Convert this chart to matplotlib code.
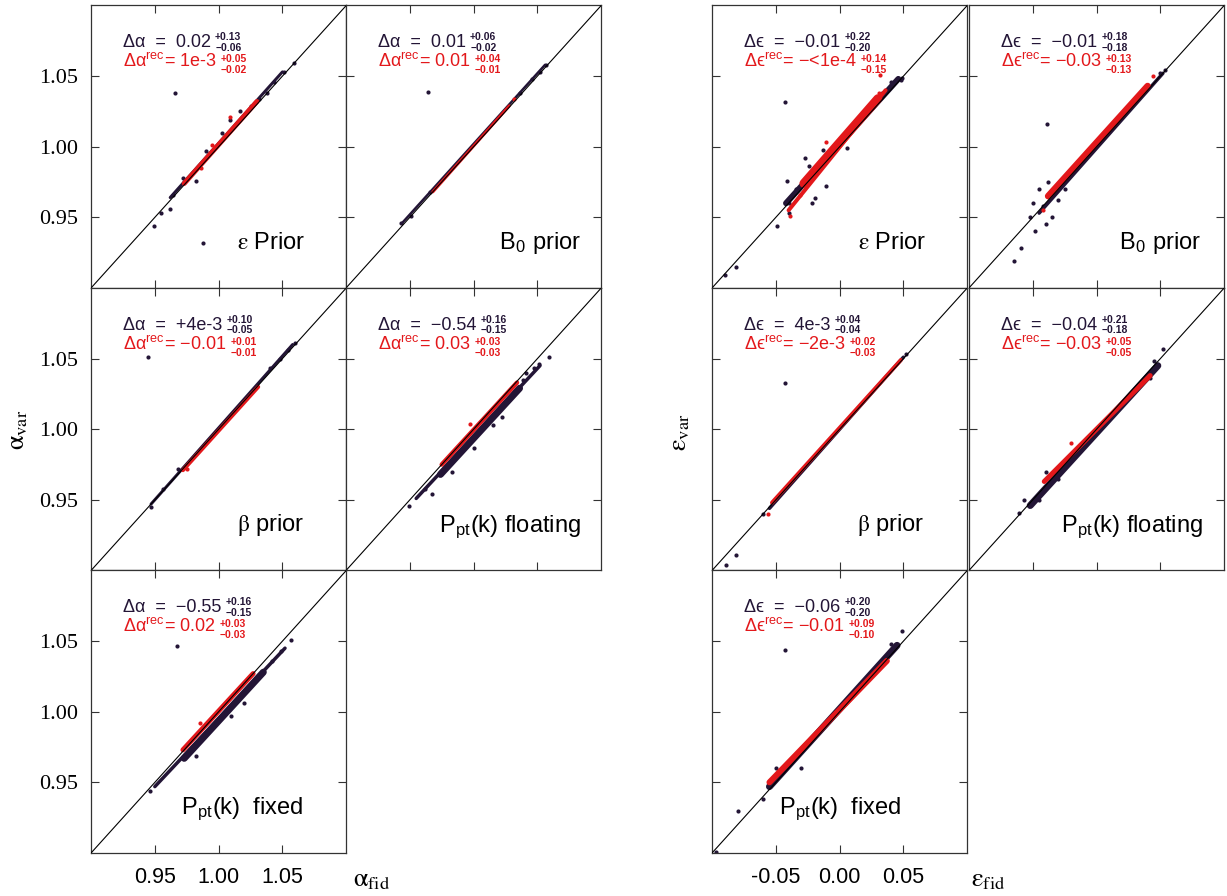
import matplotlib
matplotlib.use('Agg')
import matplotlib.pyplot as plt

# ---------------- data ----------------
alpha_ticks = [0.95, 1.00, 1.05]
alpha_ticklabels = ['0.95', '1.00', '1.05']
eps_ticks = [-0.05, 0.00, 0.05]
eps_ticklabels = ['-0.05', '0.00', '0.05']

panel_labels = ['$\\mathrm{\\varepsilon}$ Prior', 'B$_{\\mathregular{0}}$ prior', '$\\mathrm{\\beta}$ prior',
                'P$_{\\mathregular{pt}}$(k) floating', 'P$_{\\mathregular{pt}}$(k)  fixed']

alpha_dark_val = ['0.02', '0.01', '+4e-3', '\u22120.54', '\u22120.55']
alpha_dark_up = ['+0.13', '+0.06', '+0.10', '+0.16', '+0.16']
alpha_dark_lo = ['\u22120.06', '\u22120.02', '\u22120.05', '\u22120.15', '\u22120.15']
alpha_red_val = ['1e-3', '0.01', '\u22120.01', '0.03', '0.02']
alpha_red_up = ['+0.05', '+0.04', '+0.01', '+0.03', '+0.03']
alpha_red_lo = ['\u22120.02', '\u22120.01', '\u22120.01', '\u22120.03', '\u22120.03']

eps_dark_val = ['\u22120.01', '\u22120.01', '4e-3', '\u22120.04', '\u22120.06']
eps_dark_up = ['+0.22', '+0.18', '+0.04', '+0.21', '+0.20']
eps_dark_lo = ['\u22120.20', '\u22120.18', '\u22120.04', '\u22120.18', '\u22120.20']
eps_red_val = ['\u2212<1e-4', '\u22120.03', '\u22122e-3', '\u22120.03', '\u22120.01']
eps_red_up = ['+0.14', '+0.13', '+0.02', '+0.05', '+0.09']
eps_red_lo = ['\u22120.15', '\u22120.13', '\u22120.03', '\u22120.05', '\u22120.10']

# --- alpha, epsilon prior ---
A1_dark_band_fid = [0.962, 1.050]
A1_dark_band_var = [0.964, 1.053]
A1_dark_fid = [0.966, 0.988, 0.949, 0.962, 0.964, 0.972, 0.982, 1.003, 1.009, 1.017, 1.025, 1.032, 1.038, 1.043, 1.051, 1.059, 0.955, 0.990]
A1_dark_var = [1.038, 0.932, 0.944, 0.956, 0.966, 0.978, 0.976, 1.010, 1.019, 1.025, 1.029, 1.034, 1.038, 1.046, 1.053, 1.059, 0.953, 0.997]
A1_red_band_fid = [0.973, 1.030]
A1_red_band_var = [0.974, 1.032]
A1_red_fid = [0.995, 1.009, 0.986]
A1_red_var = [1.001, 1.021, 0.985]

# --- alpha, B0 prior ---
A2_dark_band_fid = [0.944, 1.056]
A2_dark_band_var = [0.946, 1.058]
A2_dark_fid = [0.964, 0.943, 0.951, 0.966, 1.036, 1.046, 1.052, 1.057]
A2_dark_var = [1.039, 0.946, 0.951, 0.968, 1.038, 1.048, 1.053, 1.058]
A2_red_band_fid = [0.968, 1.028]
A2_red_band_var = [0.968, 1.029]
A2_red_fid = [1.032]
A2_red_var = [1.034]

# --- alpha, beta prior ---
A3_dark_band_fid = [0.947, 1.058]
A3_dark_band_var = [0.947, 1.060]
A3_dark_fid = [0.945, 0.947, 0.956, 0.968, 1.040, 1.048, 1.054, 1.060]
A3_dark_var = [1.051, 0.945, 0.958, 0.972, 1.043, 1.050, 1.056, 1.061]
A3_red_band_fid = [0.972, 1.031]
A3_red_band_var = [0.971, 1.030]
A3_red_fid = [0.975]
A3_red_var = [0.972]

# --- alpha, P_pt floating ---
A4_dark_band_fid = [0.974, 1.036]
A4_dark_band_var = [0.968, 1.029]
A4_dark_tail_fid = [0.955, 1.052]
A4_dark_tail_var = [0.951, 1.045]
A4_dark_fid = [0.949, 0.962, 0.967, 1.059, 1.051, 1.047, 1.041, 1.039, 0.983, 1.000, 1.015, 1.022]
A4_dark_var = [0.946, 0.958, 0.954, 1.051, 1.046, 1.043, 1.040, 1.035, 0.970, 0.987, 1.003, 1.009]
A4_red_band_fid = [0.975, 1.034]
A4_red_band_var = [0.975, 1.033]
A4_red_fid = [0.997]
A4_red_var = [1.004]

# --- alpha, P_pt fixed ---
A5_dark_band_fid = [0.973, 1.035]
A5_dark_band_var = [0.967, 1.028]
A5_dark_tail_fid = [0.950, 1.052]
A5_dark_tail_var = [0.947, 1.045]
A5_dark_fid = [0.9675, 1.057, 1.049, 1.042, 0.946, 0.982, 1.010, 1.020]
A5_dark_var = [1.0465, 1.051, 1.043, 1.036, 0.944, 0.969, 0.997, 1.006]
A5_red_band_fid = [0.972, 1.027]
A5_red_band_var = [0.973, 1.027]
A5_red_fid = [0.985]
A5_red_var = [0.992]

# --- epsilon, epsilon prior ---
E1_dark_band_fid = [-0.042, 0.046]
E1_dark_band_var = [-0.040, 0.048]
E1_dark_fid = [-0.043, -0.081, -0.090, -0.049, -0.040, -0.040, -0.0415, -0.034, -0.027, -0.022, -0.019, -0.011, -0.024, -0.013, 0.006, 0.002, 0.040, 0.049, 0.048, 0.033]
E1_dark_var = [0.032, -0.085, -0.091, -0.056, -0.047, -0.040, -0.024, -0.030, -0.008, -0.040, -0.036, -0.028, -0.014, -0.002, -0.001, 0.005, 0.046, 0.049, 0.047, 0.038]
E1_red_band_fid = [-0.028, 0.030]
E1_red_band_var = [-0.026, 0.034]
E1_red_tail_fid = [-0.040, 0.036]
E1_red_tail_var = [-0.045, 0.040]
E1_red_fid = [0.032, -0.039, -0.031, -0.011, 0.031]
E1_red_var = [0.051, -0.049, -0.034, 0.003, 0.038]

# --- epsilon, B0 prior ---
E2_dark_band_fid = [-0.045, 0.052]
E2_dark_band_var = [-0.047, 0.052]
E2_dark_fid = [-0.039, -0.059, -0.065, -0.050, -0.045, -0.040, -0.035, -0.030, -0.048, 0.054, 0.050, -0.052, -0.042, -0.025, -0.038]
E2_dark_var = [0.016, -0.072, -0.081, -0.040, -0.030, -0.055, -0.050, -0.038, -0.060, 0.054, 0.052, -0.050, -0.042, -0.030, -0.025]
E2_red_band_fid = [-0.038, 0.040]
E2_red_band_var = [-0.035, 0.043]
E2_red_fid = [0.044, -0.042]
E2_red_var = [0.050, -0.045]

# --- epsilon, beta prior ---
E3_dark_band_fid = [-0.055, 0.050]
E3_dark_band_var = [-0.056, 0.051]
E3_dark_fid = [-0.043, -0.089, -0.081, -0.060, 0.052]
E3_dark_var = [0.033, -0.096, -0.089, -0.060, 0.053]
E3_red_band_fid = [-0.053, 0.048]
E3_red_band_var = [-0.052, 0.049]
E3_red_fid = [-0.056]
E3_red_var = [-0.060]

# --- epsilon, P_pt floating ---
E4_dark_band_fid = [-0.052, 0.048]
E4_dark_band_var = [-0.054, 0.045]
E4_dark_fid = [0.052, -0.061, -0.057, -0.045, -0.040, 0.045, 0.042, -0.030]
E4_dark_var = [0.057, -0.059, -0.050, -0.050, -0.030, 0.048, 0.036, -0.035]
E4_red_band_fid = [-0.041, 0.042]
E4_red_band_var = [-0.037, 0.038]
E4_red_fid = [-0.020]
E4_red_var = [-0.010]

# --- epsilon, P_pt fixed ---
E5_dark_band_fid = [-0.055, 0.045]
E5_dark_band_var = [-0.053, 0.047]
E5_dark_fid = [-0.043, -0.080, -0.097, 0.049, -0.060, -0.050, 0.040, -0.030]
E5_dark_var = [0.044, -0.070, -0.099, 0.057, -0.062, -0.040, 0.048, -0.040]
E5_red_band_fid = [-0.055, 0.037]
E5_red_band_var = [-0.050, 0.036]
E5_red_fid = [-0.045]
E5_red_var = [-0.040]

# ---------------- style ----------------
DARK = '#231536'
RED = '#e3181b'
plt.rcParams['font.family'] = ['Liberation Sans', 'DejaVu Sans']
plt.rcParams['mathtext.fontset'] = 'stix'

fig = plt.figure(figsize=(12.27, 8.96), dpi=100)

COLS = {'a': [0.0742, 0.2820], 'e': [0.5803, 0.7897]}
ROWS = [0.6786, 0.3633, 0.048]
PW, PH = 0.2080, 0.3153

panels = [
    ('a', 0, 0, 0, 'A1'), ('a', 0, 1, 1, 'A2'), ('a', 1, 0, 2, 'A3'), ('a', 1, 1, 3, 'A4'), ('a', 2, 0, 4, 'A5'),
    ('e', 0, 0, 0, 'E1'), ('e', 0, 1, 1, 'E2'), ('e', 1, 0, 2, 'E3'), ('e', 1, 1, 3, 'E4'), ('e', 2, 0, 4, 'E5'),
]
G = globals()

# style per panel: band width (px) dark, red
band_w = {'A1': (3, 5), 'A2': (2.5, 3), 'A3': (3, 4), 'A4': (7, 4.5), 'A5': (7, 5),
          'E1': (6, 9), 'E2': (3.5, 6.5), 'E3': (3.5, 4), 'E4': (7, 5), 'E5': (7, 6)}
label_x = {'A1': 0.84, 'A2': 0.92, 'A3': 0.835, 'A4': 0.92, 'A5': 0.83,
           'E1': 0.84, 'E2': 0.91, 'E3': 0.83, 'E4': 0.918, 'E5': 0.742}
PX = 0.72  # points per pixel


def line(ax, fid, var, color, wpx, z):
    ax.plot(fid, var, color=color, lw=wpx * PX, solid_capstyle='round', zorder=z)


for grid, r, c, k, key in panels:
    ax = fig.add_axes([COLS[grid][c], ROWS[r], PW, PH])
    if grid == 'a':
        lim = (0.90, 1.10)
        ticks, tl = alpha_ticks, alpha_ticklabels
        sym = '\u0394\u03b1'
        dv, du, dl = alpha_dark_val[k], alpha_dark_up[k], alpha_dark_lo[k]
        rv, ru, rl = alpha_red_val[k], alpha_red_up[k], alpha_red_lo[k]
    else:
        lim = (-0.10, 0.10)
        ticks, tl = eps_ticks, eps_ticklabels
        sym = '\u0394\u03f5'
        dv, du, dl = eps_dark_val[k], eps_dark_up[k], eps_dark_lo[k]
        rv, ru, rl = eps_red_val[k], eps_red_up[k], eps_red_lo[k]
    ax.set_xlim(lim)
    ax.set_ylim(lim)
    ax.plot(lim, lim, color='black', lw=0.8, zorder=5)

    wd, wr = band_w[key]
    line(ax, G[key + '_dark_band_fid'], G[key + '_dark_band_var'], DARK, wd, 2)
    if key + '_dark_tail_fid' in G:
        line(ax, G[key + '_dark_tail_fid'], G[key + '_dark_tail_var'], DARK, 3.5, 2)
    ax.scatter(G[key + '_dark_fid'], G[key + '_dark_var'], s=9, color=DARK, lw=0, zorder=2)
    if key + '_red_tail_fid' in G:
        line(ax, G[key + '_red_tail_fid'], G[key + '_red_tail_var'], RED, 4, 3)
    line(ax, G[key + '_red_band_fid'], G[key + '_red_band_var'], RED, wr, 3)
    ax.scatter(G[key + '_red_fid'], G[key + '_red_var'], s=9, color=RED, lw=0, zorder=3)

    ax.set_xticks(ticks)
    ax.set_yticks(ticks)
    ax.tick_params(direction='in', length=6, width=0.8, top=True, right=True, color='#333333')
    if r == 2:
        ax.set_xticklabels(tl, fontsize=15.5)
        ax.tick_params(axis='x', pad=10)
    else:
        ax.set_xticklabels([])
    if grid == 'a' and c == 0:
        ax.set_yticklabels(tl, fontsize=16, family='Liberation Serif')
        ax.tick_params(axis='y', pad=9)
    else:
        ax.set_yticklabels([])
    for sp in ax.spines.values():
        sp.set_linewidth(0.9)
        sp.set_color('#333333')

    # annotations
    t1 = ax.text(0.125, 0.852, sym + '  =  ' + dv, transform=ax.transAxes, fontsize=13,
                 color=DARK, va='baseline', ha='left')
    ax.annotate(du, xy=(1, 0.852), xycoords=(t1, 'axes fraction'), xytext=(3, 5),
                textcoords='offset points', fontsize=7.5, fontweight='bold', color=DARK, va='baseline')
    ax.annotate(dl, xy=(1, 0.852), xycoords=(t1, 'axes fraction'), xytext=(3, -2.5),
                textcoords='offset points', fontsize=7.5, fontweight='bold', color=DARK, va='baseline')
    t2 = ax.text(0.125, 0.782, sym + '$^{\\mathregular{rec}}$= ' + rv, transform=ax.transAxes, fontsize=13,
                 color=RED, va='baseline', ha='left')
    ax.annotate(ru, xy=(1, 0.782), xycoords=(t2, 'axes fraction'), xytext=(3, 3.5),
                textcoords='offset points', fontsize=7.5, fontweight='bold', color=RED, va='baseline')
    ax.annotate(rl, xy=(1, 0.782), xycoords=(t2, 'axes fraction'), xytext=(3, -4.5),
                textcoords='offset points', fontsize=7.5, fontweight='bold', color=RED, va='baseline')

    ax.text(label_x[key], 0.138, panel_labels[k], transform=ax.transAxes, fontsize=17,
            color='black', ha='right', va='baseline')

# axis labels
fig.text(18 / 1227, 1 - 430 / 896, '$\\mathrm{\\alpha}_{\\mathrm{var}}$', rotation=90, fontsize=19,
         ha='center', va='center')
fig.text(680 / 1227, 1 - 432 / 896, '$\\mathrm{\\varepsilon}_{\\mathrm{var}}$', rotation=90, fontsize=19,
         ha='center', va='center')
fig.text(372 / 1227, 1 - 880 / 896, '$\\mathrm{\\alpha}_{\\mathrm{fid}}$', fontsize=19, ha='center', va='center')
fig.text(988 / 1227, 1 - 880 / 896, '$\\mathrm{\\varepsilon}_{\\mathrm{fid}}$', fontsize=19, ha='center', va='center')

fig.savefig('out.png', dpi=100, facecolor='white')
